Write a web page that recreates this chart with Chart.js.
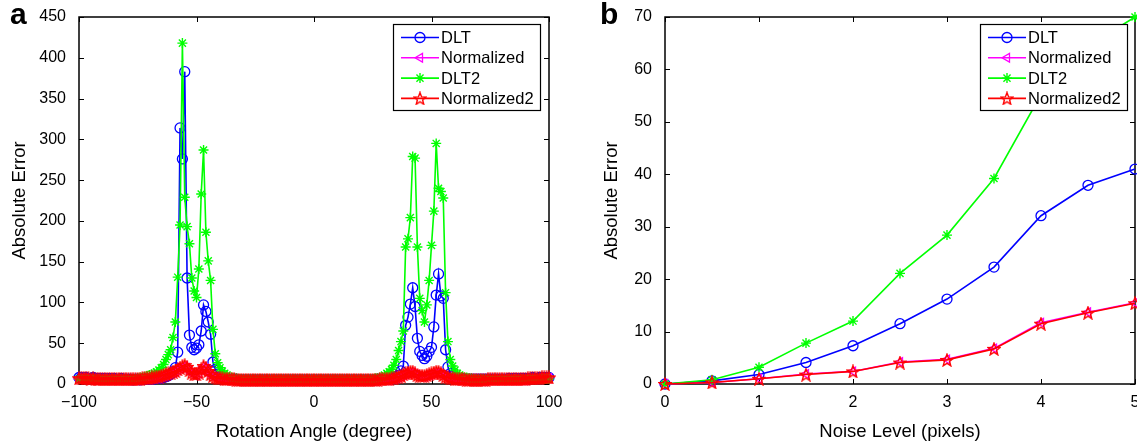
<!DOCTYPE html>
<html>
<head>
<meta charset="utf-8">
<script src="https://cdn.jsdelivr.net/npm/chart.js@4.4.1/dist/chart.umd.min.js"></script>
<style>
  html, body { margin: 0; padding: 0; background: #fff; }
  #wrap { position: relative; width: 1137px; height: 444px; overflow: hidden; font-family: "Liberation Sans", Arial, sans-serif; }
  canvas { position: absolute; top: 0; }
  #chartA { left: 0; }
  #chartB { left: 580px; }
  .tag { position: absolute; top: -3px; font-weight: bold; font-size: 30px; color: #000; }
</style>
</head>
<body>
<div id="wrap">
  <canvas id="chartA" width="580" height="444"></canvas>
  <canvas id="chartB" width="575" height="444"></canvas>
  <div class="tag" style="left:10px">a</div>
  <div class="tag" style="left:600px">b</div>
</div>
<script>
// ---- panel a: rotation angle sweep ----
var angles = [
  -100,-99,-98,-97,-96,-95,-94,-93,-92,-91,
  -90,-89,-88,-87,-86,-85,-84,-83,-82,-81,
  -80,-79,-78,-77,-76,-75,-74,-73,-72,-71,
  -70,-69,-68,-67,-66,-65,-64,-63,-62,-61,
  -60,-59,-58,-57,-56,-55,-54,-53,-52,-51,
  -50,-49,-48,-47,-46,-45,-44,-43,-42,-41,
  -40,-39,-38,-37,-36,-35,-34,-33,-32,-31,
  -30,-29,-28,-27,-26,-25,-24,-23,-22,-21,
  -20,-19,-18,-17,-16,-15,-14,-13,-12,-11,
  -10,-9,-8,-7,-6,-5,-4,-3,-2,-1,
  0,1,2,3,4,5,6,7,8,9,
  10,11,12,13,14,15,16,17,18,19,
  20,21,22,23,24,25,26,27,28,29,
  30,31,32,33,34,35,36,37,38,39,
  40,41,42,43,44,45,46,47,48,49,
  50,51,52,53,54,55,56,57,58,59,
  60,61,62,63,64,65,66,67,68,69,
  70,71,72,73,74,75,76,77,78,79,
  80,81,82,83,84,85,86,87,88,89,
  90,91,92,93,94,95,96,97,98,99,
  100
];

var dltA = [
  8,8,7,8,7,7,8,7,7,7,
  7,7,6,7,6,7,6,6,7,6,
  6,6,6,5,6,6,5,6,6,6,
  6,6,6,7,7,7,8,9,10,12,
  15,20,39,314,276,383,130,60,45,42,
  44,48,65,97,89,76,61,27,18,12,
  9,8,7,7,6,6,6,6,5,5,
  5,5,5,5,5,5,5,5,5,5,
  5,5,5,5,5,5,5,5,5,5,
  5,5,5,5,5,5,5,5,5,5,
  5,5,5,5,5,5,5,5,5,5,
  5,5,5,5,5,5,5,5,5,5,
  5,5,5,5,5,5,5,6,6,6,
  6,6,7,7,8,9,11,16,22,72,
  82,98,118,95,56,40,35,31,34,40,
  45,70,109,135,108,105,42,21,13,9,
  8,7,7,7,6,6,6,6,6,6,
  6,6,6,6,6,6,6,6,6,6,
  6,6,6,7,6,7,7,6,7,7,
  7,7,7,8,7,7,8,8,8,8,
  8
];

var normA = [
  6,7,6,7,6,6,6,6,6,6,
  6,6,5,6,5,6,5,6,5,5,
  5,5,5,5,5,5,6,6,6,6,
  6,7,7,8,8,9,10,11,12,13,
  14,15,17,19,21,22,20,16,13,11,
  11,13,17,21,19,15,11,9,7,6,
  6,6,5,5,5,5,5,4,4,4,
  4,4,4,4,4,4,4,4,4,4,
  4,4,4,4,4,4,4,4,4,4,
  4,4,4,4,4,4,4,4,4,4,
  4,4,4,4,4,4,4,4,4,4,
  4,4,4,4,4,4,4,4,4,4,
  4,4,4,4,4,4,4,4,5,5,
  5,5,5,6,6,7,8,9,11,12,
  13,14,14,12,10,9,9,9,10,11,
  12,13,14,14,12,10,8,7,6,6,
  5,5,5,5,5,4,4,4,4,4,
  4,4,4,4,5,5,5,5,5,5,
  5,5,5,5,5,5,5,5,5,5,
  5,6,6,6,6,6,6,7,7,7,
  7
];

var dlt2A = [
  6,6,6,6,6,6,6,6,6,6,
  6,6,6,6,6,6,6,6,6,6,
  6,6,6,6,6,7,8,8,9,10,
  11,12,13,15,17,20,24,30,36,42,
  57,76,131,195,418,229,193,172,130,114,
  106,141,233,287,186,151,127,67,37,26,
  20,16,13,11,9,8,7,7,6,6,
  6,6,6,6,6,6,6,6,6,6,
  6,6,6,6,6,6,6,6,6,6,
  6,6,6,6,6,6,6,6,6,6,
  6,6,6,6,6,6,6,6,6,6,
  6,6,6,6,6,6,6,6,6,6,
  6,6,6,6,6,6,7,7,8,8,
  11,13,15,18,23,30,41,52,65,168,
  178,204,279,277,168,105,90,76,97,127,
  170,212,295,240,236,228,112,52,30,22,
  17,13,11,9,8,8,7,7,6,6,
  6,6,6,6,6,6,6,6,6,6,
  6,6,6,6,6,6,6,6,6,6,
  6,6,6,6,6,6,6,6,6,6,
  6
];

var norm2A = [
  7,7,7,7,7,6,7,6,6,6,
  6,6,6,6,6,6,6,6,6,6,
  6,6,6,6,6,6,6,7,7,7,
  7,8,8,9,9,10,11,12,13,14,
  15,16,18,20,22,23,21,17,14,12,
  12,14,18,22,20,16,12,10,8,7,
  7,7,6,6,6,6,6,5,5,5,
  5,5,5,5,5,5,5,5,5,5,
  5,5,5,5,5,5,5,5,5,5,
  5,5,5,5,5,5,5,5,5,5,
  5,5,5,5,5,5,5,5,5,5,
  5,5,5,5,5,5,5,5,5,5,
  5,5,5,5,5,5,5,5,6,6,
  6,6,6,7,7,8,9,10,12,13,
  14,15,15,13,11,10,10,10,11,12,
  13,14,15,15,13,11,9,8,7,7,
  6,6,6,6,6,5,5,5,5,5,
  5,5,5,5,6,6,6,6,6,6,
  6,6,6,6,6,6,6,6,6,6,
  6,7,7,7,7,7,7,8,8,8,
  8
];

// ---- panel b: noise sweep ----
var noiseLevels = [0, 0.5, 1, 1.5, 2, 2.5, 3, 3.5, 4, 4.5, 5];
var dltB   = [0, 0.6, 1.8, 4.1, 7.3, 11.5, 16.2, 22.3, 32.1, 37.9, 41.0];
var normB  = [0, 0.3, 1.0, 1.9, 2.4, 4.2, 4.7, 6.8, 11.7, 13.7, 15.5];
var dlt2B  = [0, 0.8, 3.2, 7.8, 12.0, 21.1, 28.4, 39.2, 55.2, 64.4, 70.0];
var norm2B = [0, 0.3, 1.0, 1.8, 2.4, 4.1, 4.6, 6.7, 11.5, 13.6, 15.4];

var seriesNames = ["DLT", "Normalized", "DLT2", "Normalized2"];
var FONT = "'Liberation Sans', Arial, Helvetica, sans-serif";

function makePentagram(color) {
  var c = document.createElement("canvas");
  c.width = 14; c.height = 14;
  var g = c.getContext("2d");
  g.strokeStyle = color;
  g.lineWidth = 1.4;
  g.beginPath();
  for (var k = 0; k < 10; k++) {
    var r = k % 2 === 0 ? 6.4 : 2.7;
    var ang = -Math.PI / 2 + k * Math.PI / 5;
    var px = 7 + r * Math.cos(ang), py = 7.6 + r * Math.sin(ang);
    if (k === 0) g.moveTo(px, py); else g.lineTo(px, py);
  }
  g.closePath();
  g.stroke();
  return c;
}
var redStar = makePentagram("#ff0000");

function pts(xs, ys) {
  return xs.map(function (x, i) { return { x: x, y: ys[i] }; });
}

function buildDatasets(xs, a, b, c, d) {
  return [
    { label: seriesNames[0], data: pts(xs, a), borderColor: "#0000ff", pointBorderColor: "#0000ff",
      pointBackgroundColor: "rgba(0,0,0,0)", pointStyle: "circle", pointRadius: 5, pointBorderWidth: 1.3, order: 4 },
    { label: seriesNames[1], data: pts(xs, b), borderColor: "#ff00ff", pointBorderColor: "#ff00ff",
      pointBackgroundColor: "rgba(0,0,0,0)", pointStyle: "triangle", pointRotation: -90, pointRadius: 5, pointBorderWidth: 1.3, order: 3 },
    { label: seriesNames[2], data: pts(xs, c), borderColor: "#00ff00", pointBorderColor: "#00ff00",
      pointBackgroundColor: "rgba(0,0,0,0)", pointStyle: "star", pointRadius: 5, pointBorderWidth: 1.4, order: 2 },
    { label: seriesNames[3], data: pts(xs, d), borderColor: "#ff0000", pointBorderColor: "#ff0000",
      pointBackgroundColor: "rgba(0,0,0,0)", pointStyle: redStar, pointRadius: 6, pointBorderWidth: 1.3, order: 1 }
  ].map(function (s) {
    s.borderWidth = 1.6;
    s.tension = 0;
    s.clip = false;
    return s;
  });
}

var framePlugin = {
  id: "frame",
  beforeDatasetsDraw: function (chart) {
    var a = chart.chartArea, ctx = chart.ctx, sx = chart.scales.x, sy = chart.scales.y;
    ctx.save();
    ctx.strokeStyle = "#000";
    ctx.lineWidth = 1.5;
    ctx.strokeRect(a.left, a.top, a.right - a.left, a.bottom - a.top);
    ctx.lineWidth = 1;
    ctx.beginPath();
    sx.ticks.forEach(function (t) {
      var px = Math.round(sx.getPixelForValue(t.value)) + 0.5;
      ctx.moveTo(px, a.bottom); ctx.lineTo(px, a.bottom - 5);
      ctx.moveTo(px, a.top); ctx.lineTo(px, a.top + 5);
    });
    sy.ticks.forEach(function (t) {
      var py = Math.round(sy.getPixelForValue(t.value)) + 0.5;
      ctx.moveTo(a.left, py); ctx.lineTo(a.left + 5, py);
      ctx.moveTo(a.right, py); ctx.lineTo(a.right - 5, py);
    });
    ctx.stroke();
    ctx.restore();
  }
};

var legendPlugin = {
  id: "legendBox",
  afterDraw: function (chart, args, opts) {
    var ctx = chart.ctx, x = opts.left, y = opts.top, w = opts.width, h = opts.height;
    ctx.save();
    ctx.fillStyle = "#fff";
    ctx.fillRect(x, y, w, h);
    ctx.strokeStyle = "#000";
    ctx.lineWidth = 1.2;
    ctx.strokeRect(x + 0.5, y + 0.5, w, h);
    chart.data.datasets.forEach(function (d, i) {
      var cy = y + 13.5 + i * 20.3;
      ctx.strokeStyle = d.borderColor;
      ctx.lineWidth = d.borderWidth;
      ctx.beginPath();
      ctx.moveTo(x + 8, cy);
      ctx.lineTo(x + 46, cy);
      ctx.stroke();
      ctx.fillStyle = d.pointBackgroundColor;
      ctx.strokeStyle = d.pointBorderColor;
      ctx.lineWidth = d.pointBorderWidth;
      Chart.helpers.drawPoint(ctx, {
        pointStyle: d.pointStyle, radius: d.pointRadius, rotation: d.pointRotation || 0, borderWidth: d.pointBorderWidth
      }, x + 27, cy);
      ctx.fillStyle = "#000";
      ctx.font = "16.5px " + FONT;
      ctx.textAlign = "left";
      ctx.textBaseline = "middle";
      ctx.fillText(d.label, x + 48, cy + 1);
    });
    ctx.restore();
  }
};

function minusSign(v) {
  return String(v).replace("-", "\u2212");
}

function makeChart(id, xs, sets, xOpt, yOpt, yWidth, rightPad, legendLeft) {
  var ctx = document.getElementById(id).getContext("2d");
  return new Chart(ctx, {
    type: "line",
    data: { datasets: sets },
    plugins: [framePlugin, legendPlugin],
    options: {
      responsive: false,
      animation: false,
      devicePixelRatio: 1,
      layout: { padding: { left: 0, right: rightPad, top: 17, bottom: 0 } },
      plugins: {
        legend: { display: false },
        tooltip: { enabled: false },
        legendBox: { left: legendLeft, top: 24, width: 147, height: 86 }
      },
      scales: {
        x: {
          type: "linear",
          min: xOpt.min, max: xOpt.max,
          grid: { display: false, drawTicks: false },
          border: { display: false },
          ticks: { stepSize: xOpt.step, padding: 9, color: "#000", font: { size: 16, family: FONT }, callback: minusSign, maxRotation: 0 },
          title: { display: true, text: xOpt.title, color: "#000", font: { size: 18.5, family: FONT }, padding: { top: 0, bottom: 1 } },
          afterFit: function (s) { s.height = 60; s.paddingLeft = 0; s.paddingRight = 0; }
        },
        y: {
          min: yOpt.min, max: yOpt.max,
          grid: { display: false, drawTicks: false },
          border: { display: false },
          ticks: { stepSize: yOpt.step, padding: 13, color: "#000", font: { size: 16, family: FONT } },
          title: { display: true, text: "Absolute Error", color: "#000", font: { size: 18.5, family: FONT }, padding: { top: yOpt.titlePad, bottom: 0 } },
          afterFit: function (s) { s.width = yWidth; s.paddingTop = 0; s.paddingBottom = 0; }
        }
      }
    }
  });
}

makeChart("chartA", angles, buildDatasets(angles, dltA, normA, dlt2A, norm2A),
  { min: -100, max: 100, step: 50, title: "Rotation Angle (degree)" },
  { min: 0, max: 450, step: 50, titlePad: 9 },
  79, 31, 393);

makeChart("chartB", noiseLevels, buildDatasets(noiseLevels, dltB, normB, dlt2B, norm2B),
  { min: 0, max: 5, step: 1, title: "Noise Level (pixels)" },
  { min: 0, max: 70, step: 10, titlePad: 21 },
  85, 20, 400);
</script>
</body>
</html>
